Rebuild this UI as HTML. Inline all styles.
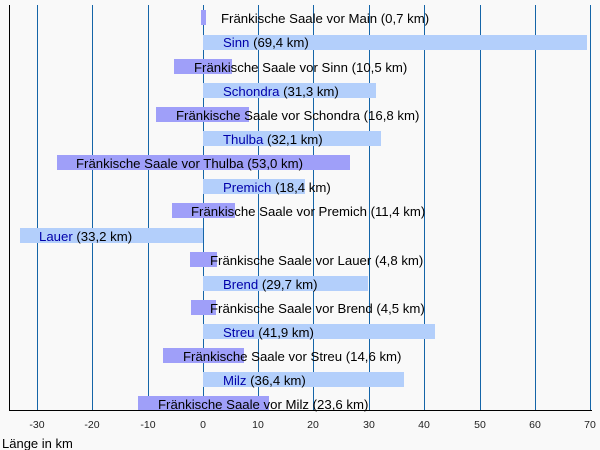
<!DOCTYPE html>
<html><head><meta charset="utf-8"><style>
html,body{margin:0;padding:0;background:#f9f9f9}
svg{display:block}
text{font-family:"Liberation Sans",Arial,sans-serif}
</style></head><body>
<svg width="600" height="450" viewBox="0 0 600 450" xmlns="http://www.w3.org/2000/svg">
<g stroke="#1565a8" stroke-width="1">
<line x1="37.5" y1="5" x2="37.5" y2="410"/>
<line x1="92.5" y1="5" x2="92.5" y2="410"/>
<line x1="148.5" y1="5" x2="148.5" y2="410"/>
<line x1="203.5" y1="5" x2="203.5" y2="410"/>
<line x1="258.5" y1="5" x2="258.5" y2="410"/>
<line x1="313.5" y1="5" x2="313.5" y2="410"/>
<line x1="369.5" y1="5" x2="369.5" y2="410"/>
<line x1="424.5" y1="5" x2="424.5" y2="410"/>
<line x1="480.5" y1="5" x2="480.5" y2="410"/>
<line x1="535.5" y1="5" x2="535.5" y2="410"/>
<line x1="590.5" y1="5" x2="590.5" y2="410"/>
</g>
<g fill="#9f9ff9">
<rect x="201" y="10" width="5" height="15"/>
<rect x="174" y="59" width="58" height="15"/>
<rect x="156" y="107" width="93" height="15"/>
<rect x="57" y="155" width="293" height="15"/>
<rect x="172" y="203" width="63" height="15"/>
<rect x="190" y="252" width="27" height="15"/>
<rect x="191" y="300" width="25" height="15"/>
<rect x="163" y="348" width="81" height="15"/>
<rect x="138" y="396" width="131" height="14"/>
</g>
<g fill="#b3cffb">
<rect x="203" y="35" width="384" height="15"/>
<rect x="203" y="83" width="173" height="15"/>
<rect x="203" y="131" width="178" height="15"/>
<rect x="203" y="179" width="102" height="15"/>
<rect x="20" y="228" width="183" height="15"/>
<rect x="203" y="276" width="165" height="15"/>
<rect x="203" y="324" width="232" height="15"/>
<rect x="203" y="372" width="201" height="15"/>
</g>
<g stroke="#000" stroke-width="1">
<line x1="9.5" y1="5" x2="9.5" y2="410.5"/>
<line x1="9" y1="410.5" x2="592" y2="410.5"/>
</g>
<g font-size="13.2" fill="#000">
<text x="221" y="23">Fränkische Saale vor Main (0,7 km)</text>
<text x="223" y="47"><tspan fill="#0000aa">Sinn</tspan> (69,4 km)</text>
<text x="194" y="72">Fränkische Saale vor Sinn (10,5 km)</text>
<text x="223" y="96"><tspan fill="#0000aa">Schondra</tspan> (31,3 km)</text>
<text x="176" y="120">Fränkische Saale vor Schondra (16,8 km)</text>
<text x="223" y="144"><tspan fill="#0000aa">Thulba</tspan> (32,1 km)</text>
<text x="76" y="168">Fränkische Saale vor Thulba (53,0 km)</text>
<text x="223" y="192"><tspan fill="#0000aa">Premich</tspan> (18,4 km)</text>
<text x="191" y="216">Fränkische Saale vor Premich (11,4 km)</text>
<text x="39" y="241"><tspan fill="#0000aa">Lauer</tspan> (33,2 km)</text>
<text x="210" y="265">Fränkische Saale vor Lauer (4,8 km)</text>
<text x="223" y="289"><tspan fill="#0000aa">Brend</tspan> (29,7 km)</text>
<text x="210" y="313">Fränkische Saale vor Brend (4,5 km)</text>
<text x="223" y="337"><tspan fill="#0000aa">Streu</tspan> (41,9 km)</text>
<text x="183" y="361">Fränkische Saale vor Streu (14,6 km)</text>
<text x="223" y="385"><tspan fill="#0000aa">Milz</tspan> (36,4 km)</text>
<text x="158" y="409">Fränkische Saale vor Milz (23,6 km)</text>
</g>
<g font-size="10.5" fill="#222" text-anchor="middle">
<text x="37" y="428">-30</text><text x="92" y="428">-20</text><text x="148" y="428">-10</text>
<text x="203" y="428">0</text><text x="258" y="428">10</text><text x="313" y="428">20</text>
<text x="369" y="428">30</text><text x="424" y="428">40</text><text x="480" y="428">50</text>
<text x="535" y="428">60</text><text x="590" y="428">70</text>
</g>
<text x="2" y="448" font-size="13" fill="#000">Länge in km</text>
</svg>
</body></html>
